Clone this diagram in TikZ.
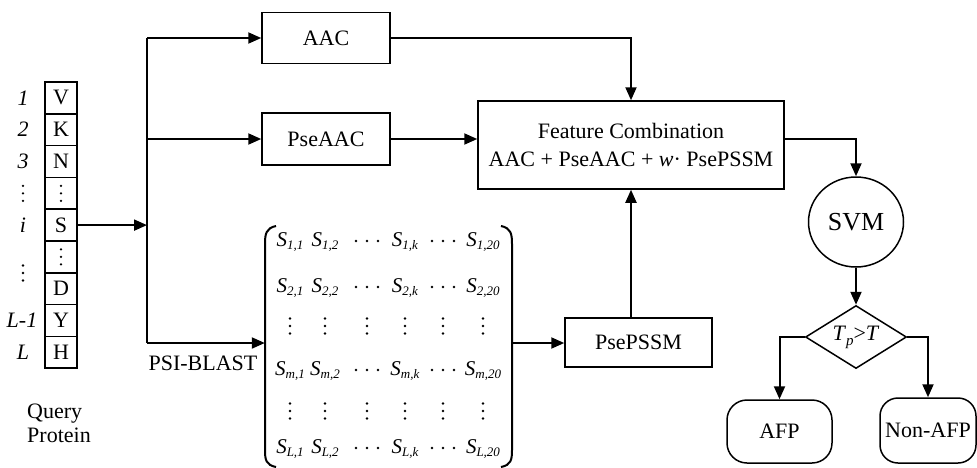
\documentclass[tikz,border=0pt]{standalone}
\usepackage{fontspec}
\setmainfont{Liberation Serif}
\usetikzlibrary{arrows.meta,shapes.geometric}
\newcommand{\ent}[1]{\textit{S}\raisebox{-0.4ex}{\fontsize{13}{13}\selectfont\textit{#1}}}
\tikzset{
  every node/.style={font=\fontsize{22}{24}\selectfont, inner sep=0pt},
  box/.style={draw, line width=1.5pt},
  seqbox/.style={draw, line width=1.5pt, minimum width=32pt, minimum height=31.8pt},
  arr/.style={line width=2pt, -{Triangle[length=13pt,width=11pt]}},
  ln/.style={line width=2pt},
  lab/.style={font=\fontsize{22}{24}\selectfont\itshape},
  mat/.style={font=\fontsize{21}{22}\selectfont},
  vdts/.pic={\fill (0,-7.5) circle (1.3); \fill (0,0) circle (1.3); \fill (0,7.5) circle (1.3);},
  hdts/.pic={\fill (-11,0) circle (1.3); \fill (0,0) circle (1.3); \fill (11,0) circle (1.3);},
}
\begin{document}
\begin{tikzpicture}[x=1pt,y=-1pt]
\useasboundingbox (0,0) rectangle (977,467);
% sequence
\foreach \t [count=\k] in {V,K,N,{},S,{},D,Y,H}{
  \node[seqbox] (s\k) at (61,{82+15.9+31.8*(\k-1)}) {\t};
}
\pic at (s4.center) {vdts};
\pic at (s6.center) {vdts};
\node[lab] (l1) at (23,97.9) {1};
\node[lab] (l2) at (23,129.7) {2};
\node[lab] (l3) at (23,161.5) {3};
\pic at (23,193.3) {vdts};
\node[lab] (l5) at (23,225.1) {i};
\pic at (23,273) {vdts};
\node[lab] (l8) at (22,320.5) {L-1};
\node[lab] (l9) at (23,352.3) {L};
\node[align=left, anchor=west, font=\fontsize{22}{24}\selectfont] (qp) at (27,423) {Query\\Protein};
% trunk
\coordinate (ta) at (147,38);
\coordinate (tm) at (147,139);
\coordinate (tb) at (147,343);
\coordinate (fo) at (784,139);
\draw[arr] (s5.east) -- (s5.east -| ta);
\draw[ln] (ta) -- (tb);
% boxes
\node[box, minimum width=128pt, minimum height=51pt] (aac) at (326,38) {AAC};
\node[box, minimum width=128pt, minimum height=52pt] (pseaac) at (326,139) {PseAAC};
\node[box, minimum width=306pt, minimum height=88pt, align=center] (feat) at (631,145)
  {Feature Combination\\[4pt]AAC + PseAAC + \textit{w}{\textperiodcentered} PsePSSM};
\node[box, minimum width=147pt, minimum height=49pt] (pssm) at (638.5,342.5) {PsePSSM};
\node[draw, ellipse, line width=1.5pt, minimum width=95pt, minimum height=90pt, font=\fontsize{26}{28}\selectfont] (svm) at (856,222) {SVM};
\node[draw, diamond, aspect=1.6, line width=1.5pt, minimum width=101pt, minimum height=63pt] (dia) at (856,337)
  {\textit{T}\raisebox{-0.5ex}{\fontsize{15}{15}\selectfont\textit{p}}>\textit{T}};
\node[box, rounded corners=20pt, minimum width=105pt, minimum height=63pt] (afp) at (779.5,431.5) {AFP};
\node[box, rounded corners=18pt, minimum width=96pt, minimum height=65pt] (nafp) at (928,430.5) {Non-AFP};
% matrix
\node[minimum width=247pt, minimum height=240pt] (mx) at (388.5,346) {};
\draw[ln] (276,226) .. controls (266,228) and (265,234) .. (265,244) -- (265,450) .. controls (265,460) and (266,465) .. (276,467);
\draw[ln] (501,226) .. controls (511,228) and (512,234) .. (512,244) -- (512,450) .. controls (512,460) and (511,465) .. (501,467);
\foreach \r/\y in {1/242,2/288,m/371,L/449}{
  \node[mat] (m\r a) at (290,\y) {\ent{\r,1}};
  \node[mat] (m\r b) at (325,\y) {\ent{\r,2}};
  \node[mat] (m\r d) at (405,\y) {\ent{\r,k}};
  \node[mat] (m\r f) at (483,\y) {\ent{\r,20}};
  \pic at (367,\y-1) {hdts};
  \pic at (443,\y-1) {hdts};
}
\foreach \y in {326,411}{
  \foreach \x in {290,325,367,405,443,483}{
    \pic at (\x,\y) {vdts};
  }
}
\node (psib) at (203,363) {PSI-BLAST};
% connectors
\draw[arr] (ta) -- (aac.west);
\draw[arr] (tm) -- (tm -| pseaac.west);
\draw[arr] (tb) -- (tb -| mx.west);
\draw[arr] (pseaac.east) -- (pseaac.east -| feat.west);
\draw[arr] (aac.east) -| (feat.north);
\draw[arr] (mx.east |- tb) -- (tb -| pssm.west);
\draw[arr] (feat.south |- pssm.north) -- (feat.south);
\draw[arr] (fo) -| (svm.north);
\draw[arr] (svm.south) -- (dia.north);
\draw[arr] (dia.west) -| (afp.north);
\draw[arr] (dia.east) -| (nafp.north);
\end{tikzpicture}
\end{document}
